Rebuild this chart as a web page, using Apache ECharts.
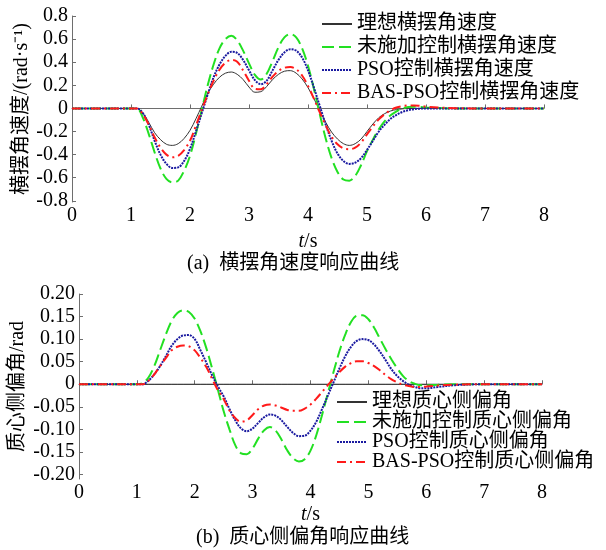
<!DOCTYPE html>
<html>
<head>
<meta charset="utf-8">
<script src="https://cdn.jsdelivr.net/npm/echarts@6/dist/echarts.min.js"></script>
<style>
    html, body { margin: 0; padding: 0; background: #fff; }
    #responseChart { width: 606px; height: 550px; }
</style>
</head>
<body>
<div id="responseChart"></div>
<script>
// time axis (s)
var timePoints = [0, 0.5, 1.0,
    1.1, 1.2, 1.3, 1.4, 1.5, 1.6, 1.7, 1.8, 1.9, 2.0,
    2.1, 2.2, 2.3, 2.4, 2.5, 2.6, 2.7, 2.8, 2.9, 3.0,
    3.1, 3.2, 3.3, 3.4, 3.5, 3.6, 3.7, 3.8, 3.9, 4.0,
    4.1, 4.2, 4.3, 4.4, 4.5, 4.6, 4.7, 4.8, 4.9, 5.0,
    5.1, 5.2, 5.3, 5.4, 5.5, 5.6, 5.7, 5.8, 5.9, 6.0,
    6.2, 6.5, 7.0, 7.5, 8.0];

// (a) 横摆角速度 rad/s
var yawIdeal = [0, 0, 0,
    0, -0.04, -0.12, -0.21, -0.27, -0.31, -0.32, -0.305, -0.26, -0.19,
    -0.09, 0.02, 0.13, 0.21, 0.27, 0.305, 0.315, 0.295, 0.25, 0.185,
    0.14, 0.145, 0.19, 0.25, 0.295, 0.322, 0.327, 0.305, 0.255, 0.18,
    0.085, -0.02, -0.12, -0.205, -0.265, -0.305, -0.32, -0.305, -0.265, -0.2,
    -0.135, -0.08, -0.045, -0.022, -0.01, -0.004, 0, 0, 0, 0,
    0, 0, 0, 0, 0];
var yawNoCtrl = [0, 0, 0,
    0, -0.08, -0.22, -0.38, -0.52, -0.61, -0.64, -0.625, -0.54, -0.41,
    -0.22, -0.01, 0.2, 0.38, 0.52, 0.6, 0.628, 0.59, 0.5, 0.39,
    0.29, 0.25, 0.3, 0.41, 0.53, 0.615, 0.645, 0.615, 0.52, 0.37,
    0.17, -0.05, -0.26, -0.43, -0.55, -0.615, -0.625, -0.585, -0.49, -0.37,
    -0.27, -0.18, -0.11, -0.06, -0.025, 0, 0.012, 0.015, 0.012, 0.008,
    0.003, 0, 0, 0, 0];
var yawPso = [0, 0, 0,
    0, -0.04, -0.14, -0.28, -0.4, -0.48, -0.515, -0.51, -0.455, -0.35,
    -0.2, -0.04, 0.12, 0.27, 0.38, 0.455, 0.49, 0.48, 0.42, 0.33,
    0.245, 0.21, 0.24, 0.33, 0.42, 0.485, 0.512, 0.5, 0.44, 0.33,
    0.18, 0.02, -0.14, -0.28, -0.39, -0.455, -0.48, -0.47, -0.43, -0.36,
    -0.28, -0.2, -0.14, -0.09, -0.055, -0.03, -0.015, -0.006, -0.002, 0,
    0, 0, 0, 0, 0];
var yawBasPso = [0, 0, 0,
    0, -0.05, -0.14, -0.25, -0.34, -0.4, -0.423, -0.41, -0.36, -0.28,
    -0.15, -0.01, 0.12, 0.24, 0.335, 0.395, 0.42, 0.405, 0.33, 0.24,
    0.17, 0.165, 0.21, 0.275, 0.325, 0.352, 0.358, 0.34, 0.285, 0.195,
    0.085, -0.035, -0.145, -0.245, -0.31, -0.345, -0.353, -0.34, -0.295, -0.225,
    -0.155, -0.095, -0.05, -0.015, 0.008, 0.02, 0.026, 0.026, 0.022, 0.016,
    0.008, 0.002, 0, 0, 0];

// (b) 质心侧偏角 rad
var betaIdeal = timePoints.map(function () { return 0; });
var betaNoCtrl = [0, 0, 0,
    0.003, 0.015, 0.04, 0.075, 0.11, 0.14, 0.158, 0.164, 0.16, 0.145,
    0.117, 0.08, 0.035, -0.012, -0.06, -0.1, -0.135, -0.153, -0.155, -0.142,
    -0.12, -0.102, -0.095, -0.103, -0.123, -0.147, -0.164, -0.171, -0.166, -0.147,
    -0.113, -0.068, -0.02, 0.028, 0.073, 0.11, 0.138, 0.152, 0.153, 0.144,
    0.125, 0.101, 0.077, 0.055, 0.035, 0.018, 0.007, 0.001, -0.002, -0.002,
    -0.001, 0, 0, 0, 0];
var betaPso = [0, 0, 0,
    0, 0.008, 0.022, 0.04, 0.062, 0.085, 0.1, 0.108, 0.109, 0.1,
    0.075, 0.048, 0.02, -0.005, -0.027, -0.055, -0.08, -0.098, -0.104, -0.098,
    -0.085, -0.073, -0.067, -0.07, -0.08, -0.095, -0.108, -0.115, -0.114, -0.103,
    -0.083, -0.055, -0.025, 0.005, 0.035, 0.062, 0.083, 0.096, 0.1, 0.098,
    0.088, 0.072, 0.053, 0.033, 0.018, 0.007, -0.001, -0.006, -0.009, -0.009,
    -0.006, -0.002, 0, 0, 0];
var betaBasPso = [0, 0, 0,
    0, 0.008, 0.022, 0.04, 0.058, 0.075, 0.083, 0.086, 0.084, 0.075,
    0.058, 0.038, 0.012, -0.013, -0.033, -0.058, -0.075, -0.083, -0.08, -0.068,
    -0.055, -0.047, -0.045, -0.047, -0.052, -0.057, -0.059, -0.059, -0.054, -0.045,
    -0.032, -0.017, -0.002, 0.013, 0.027, 0.039, 0.047, 0.051, 0.051, 0.047,
    0.04, 0.031, 0.02, 0.011, 0.004, -0.001, -0.004, -0.006, -0.006, -0.005,
    -0.003, -0.001, 0, 0, 0];

var yawNames = ['理想横摆角速度', '未施加控制横摆角速度', 'PSO控制横摆角速度', 'BAS-PSO控制横摆角速度'];
var betaNames = ['理想质心侧偏角', '未施加控制质心侧偏角', 'PSO控制质心侧偏角', 'BAS-PSO控制质心侧偏角'];

var FONT = '"Liberation Serif", "Noto Sans CJK SC", serif';

var lineStyles = [
    { color: '#333333', width: 1, type: 'solid' },
    { color: '#22e022', width: 2, type: [12, 5] },
    { color: '#1a1aa0', width: 2, type: [2, 1] },
    { color: '#ff1a1a', width: 2, type: [9, 4, 2, 4] }
];

var toPairs = function (values) {
    return timePoints.map(function (t, i) { return [t, values[i]]; });
};

var makeSeries = function (name, values, idx, axisIdx) {
    return {
        name: name,
        type: 'line',
        xAxisIndex: axisIdx,
        yAxisIndex: axisIdx,
        data: toPairs(values),
        symbol: 'none',
        smooth: 0.35,
        color: lineStyles[idx].color,
        lineStyle: lineStyles[idx]
    };
};

var axisBase = {
    axisLine: { lineStyle: { color: '#6e6e6e', width: 1 } },
    axisTick: { inside: true, length: 4, lineStyle: { color: '#6e6e6e' } },
    splitLine: { show: false }
};

var makeX = function (gridIdx, nameGap) {
    return Object.assign({}, axisBase, {
        type: 'value',
        gridIndex: gridIdx,
        min: 0, max: 8, interval: 1,
        name: '{i|t}/s',
        nameLocation: 'middle',
        nameGap: nameGap,
        nameMoveOverlap: false,
        nameTextStyle: {
            fontFamily: FONT, fontSize: 20, color: '#000',
            rich: { i: { fontFamily: FONT, fontSize: 20, fontStyle: 'italic', color: '#000' } }
        },
        axisLabel: { fontFamily: FONT, fontSize: 20, color: '#000', margin: 4 }
    });
};

var makeY = function (gridIdx, min, max, step, digits, name, nameGap) {
    return Object.assign({}, axisBase, {
        type: 'value',
        gridIndex: gridIdx,
        min: min, max: max,
        minInterval: step, maxInterval: step,
        name: name,
        nameLocation: 'middle',
        nameGap: nameGap,
        nameMoveOverlap: false,
        nameTextStyle: { fontFamily: FONT, fontSize: 20, color: '#000' },
        axisLabel: {
            fontFamily: FONT, fontSize: 20, color: '#000', margin: 4,
            showMinLabel: false,
            formatter: function (v) {
                if (Math.abs(v) < 1e-9) return '0';
                return v.toFixed(digits);
            }
        }
    });
};

var legendText = { fontFamily: FONT, fontSize: 20, color: '#000', lineHeight: 20 };

var chart = echarts.init(document.getElementById('responseChart'), null, { renderer: 'canvas' });

var option = {
    animation: false,
    backgroundColor: '#fff',
    grid: [
        { left: 72, right: 62, top: 16, height: 186 },
        { left: 78, right: 64, top: 294, height: 185 }
    ],
    title: [
        { text: '(a)  横摆角速度响应曲线', left: 187, top: 254, padding: 0,
          textStyle: { fontFamily: FONT, fontSize: 20, fontWeight: 'normal', color: '#000' } },
        { text: '(b)  质心侧偏角响应曲线', left: 196, top: 528, padding: 0,
          textStyle: { fontFamily: FONT, fontSize: 20, fontWeight: 'normal', color: '#000' } }
    ],
    legend: [
        { data: yawNames, orient: 'vertical', left: 321, top: 14, padding: 0,
          itemWidth: 30, itemHeight: 12, itemGap: 3, textStyle: legendText,
          itemStyle: { opacity: 0 } },
        { data: betaNames, orient: 'vertical', left: 336, top: 392, padding: 0,
          itemWidth: 30, itemHeight: 12, itemGap: 0, textStyle: legendText,
          itemStyle: { opacity: 0 } }
    ],
    xAxis: [makeX(0, 30), makeX(1, 26)],
    yAxis: [
        makeY(0, -0.81, 0.8, 0.2, 1, '横摆角速度/(rad·s⁻¹)', 40),
        makeY(1, -0.21, 0.2, 0.05, 2, '质心侧偏角/rad', 51)
    ],
    series: [
        makeSeries(yawNames[0], yawIdeal, 0, 0),
        makeSeries(yawNames[1], yawNoCtrl, 1, 0),
        makeSeries(yawNames[2], yawPso, 2, 0),
        makeSeries(yawNames[3], yawBasPso, 3, 0),
        makeSeries(betaNames[0], betaIdeal, 0, 1),
        makeSeries(betaNames[1], betaNoCtrl, 1, 1),
        makeSeries(betaNames[2], betaPso, 2, 1),
        makeSeries(betaNames[3], betaBasPso, 3, 1)
    ]
};

chart.setOption(option);
</script>
</body>
</html>
